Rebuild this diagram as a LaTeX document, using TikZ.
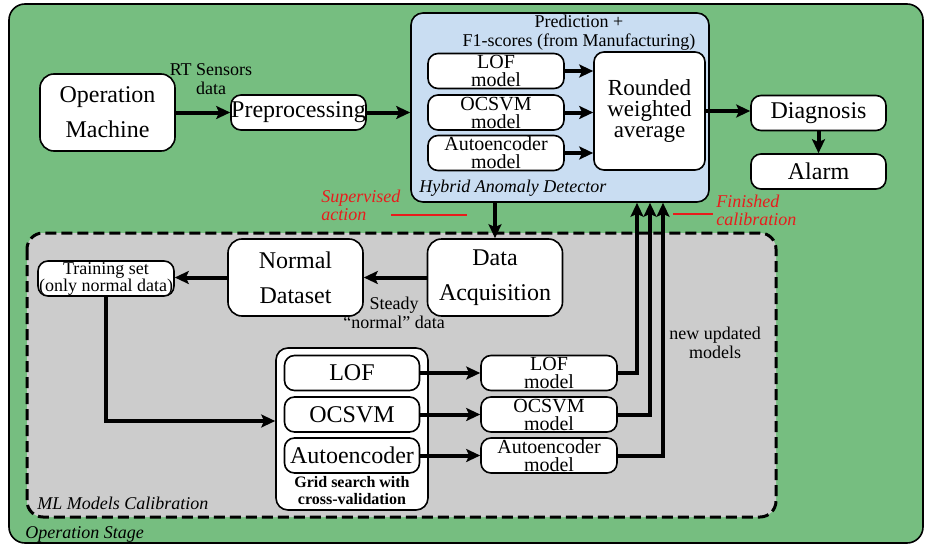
\documentclass[tikz,border=0pt]{standalone}
\usepackage{fontspec}
\setmainfont{Liberation Serif}
\usetikzlibrary{arrows.meta}

\definecolor{stagegreen}{RGB}{118,190,128}
\definecolor{hybblue}{RGB}{201,221,242}
\definecolor{calgray}{RGB}{204,204,204}
\definecolor{notered}{RGB}{232,28,28}

\begin{document}
\begin{tikzpicture}[x=0.5pt,y=-0.5pt,>={Stealth[length=7pt,width=6.5pt,inset=1.5pt]},
  box/.style={draw,fill=white,line width=0.8pt,align=center,inner sep=0pt},
  bigbox/.style={box,rounded corners=7pt,minimum width=67.5pt,minimum height=38.5pt,
    font=\fontsize{12}{17.5}\selectfont},
  midbox/.style={box,rounded corners=5pt,minimum width=67.5pt,minimum height=17.5pt,
    font=\fontsize{12}{12}\selectfont},
  modbox/.style={box,rounded corners=5pt,minimum width=68pt,minimum height=17.5pt,
    font=\fontsize{10}{9}\selectfont},
  flow/.style={->,line width=2pt},
  note/.style={font=\fontsize{9}{9.5}\selectfont,align=center,inner sep=0pt},
  tag/.style={font=\fontsize{9}{9}\selectfont\itshape,anchor=west,inner sep=0pt},
  redtag/.style={tag,text=notered,align=left}]

  \useasboundingbox (0,0) rectangle (926,546);

  \def\ua{38.5pt}   % return lines, offset from hyb.south
  \def\ub{45pt}
  \def\uc{51.5pt}

  % stages
  \draw[fill=stagegreen,line width=0.8pt,rounded corners=8pt] (9,4) rectangle (923,543);
  \draw[fill=calgray,line width=1.5pt,dash pattern=on 5.5pt off 2.5pt,rounded corners=8pt]
    (27,233) rectangle (776,517);

  % upper row
  \node[bigbox] (opm) at (107.5,112.5) {Operation\\Machine};
  \node[midbox] (prep) at (298.5,112.5) {Preprocessing};
  \node[box,rounded corners=6pt,fill=hybblue,minimum width=149pt,minimum height=94.5pt]
    (hyb) at (560,107.5) {};
  \node[modbox] (lofm) at (496,71) {LOF\\model};
  \node[modbox] (ocsm) at (496,112.5) {OCSVM\\model};
  \node[modbox] (autm) at (496,153) {Autoencoder\\model};
  \node[box,rounded corners=5pt,minimum width=55.5pt,minimum height=59pt,
    font=\fontsize{11.5}{10.5}\selectfont] (rwa) at (649.5,111) {Rounded\\weighted\\average};
  \node[midbox] (diag) at (818.5,113) {Diagnosis};
  \node[midbox] (alarm) at (818.5,171.5) {Alarm};

  % calibration
  \node[bigbox] (daq) at (495,277.5) {Data\\Acquisition};
  \node[bigbox] (nds) at (295.5,277.5) {Normal\\Dataset};
  \node[box,rounded corners=5pt,minimum width=68pt,minimum height=17.5pt,
    font=\fontsize{9}{8.5}\selectfont] (trs) at (106,278.5) {Training set\\(only normal data)};
  \node[box,rounded corners=6pt,minimum width=76pt,minimum height=81pt] (grid) at (352,429) {};
  \node[midbox] (lof) at (352,373) {LOF};
  \node[midbox] (ocs) at (352,414.5) {OCSVM};
  \node[midbox] (aut) at (352,455.5) {Autoencoder};
  \node[note,font=\fontsize{8}{8.5}\selectfont\bfseries] (gsl) at (352,491)
    {Grid search with\\cross-validation};
  \node[modbox] (lofn) at (549,373) {LOF\\model};
  \node[modbox] (ocsn) at (549,414.5) {OCSVM\\model};
  \node[modbox] (autn) at (549,455.5) {Autoencoder\\model};

  % labels
  \node[note] (rtl) at (211,79) {RT Sensors\\data};
  \node[note] (prl) at (579,33) {Prediction +\\F1-scores (from Manufacturing)};
  \node[tag] (hyl) at (419,188) {Hybrid Anomaly Detector};
  \node[redtag] (sul) at (321,205) {Supervised\\action};
  \node[redtag] (fil) at (716,210) {Finished\\calibration};
  \node[note] (stl) at (394,313) {Steady\\``normal'' data};
  \node[note] (nul) at (715,343) {new updated\\models};
  \node[tag] (mll) at (37,503) {ML Models Calibration};
  \node[tag] (osl) at (25,534) {Operation Stage};

  \draw[notered,line width=0.6pt] (391,215) -- (467,215);
  \draw[notered,line width=0.6pt] (673,214) -- (713,214);

  % connectors
  \draw[flow] (opm) -- (prep);
  \draw[flow] (prep.east) -- (prep.east -| hyb.west);
  \draw[flow] (lofm.east) -- (lofm.east -| rwa.west);
  \draw[flow] (ocsm.east) -- (ocsm.east -| rwa.west);
  \draw[flow] (autm.east) -- (autm.east -| rwa.west);
  \draw[flow] (rwa.east) -- (rwa.east -| diag.west);
  \draw[flow] (diag) -- (alarm);

  \draw[flow] (daq.north |- hyb.south) -- (daq.north);
  \draw[flow] (daq.west) -- (daq.west -| nds.east);
  \draw[flow] (nds.west) -- (nds.west -| trs.east);
  \draw[flow] (trs.south) |- ([yshift=4pt]grid.west);
  \draw[flow] (lof) -- (lofn);
  \draw[flow] (ocs) -- (ocsn);
  \draw[flow] (aut) -- (autn);
  \draw[flow] (lofn.east) -| ([xshift=\ua]hyb.south);
  \draw[flow] (ocsn.east) -| ([xshift=\ub]hyb.south);
  \draw[flow] (autn.east) -| ([xshift=\uc]hyb.south);

\end{tikzpicture}
\end{document}
